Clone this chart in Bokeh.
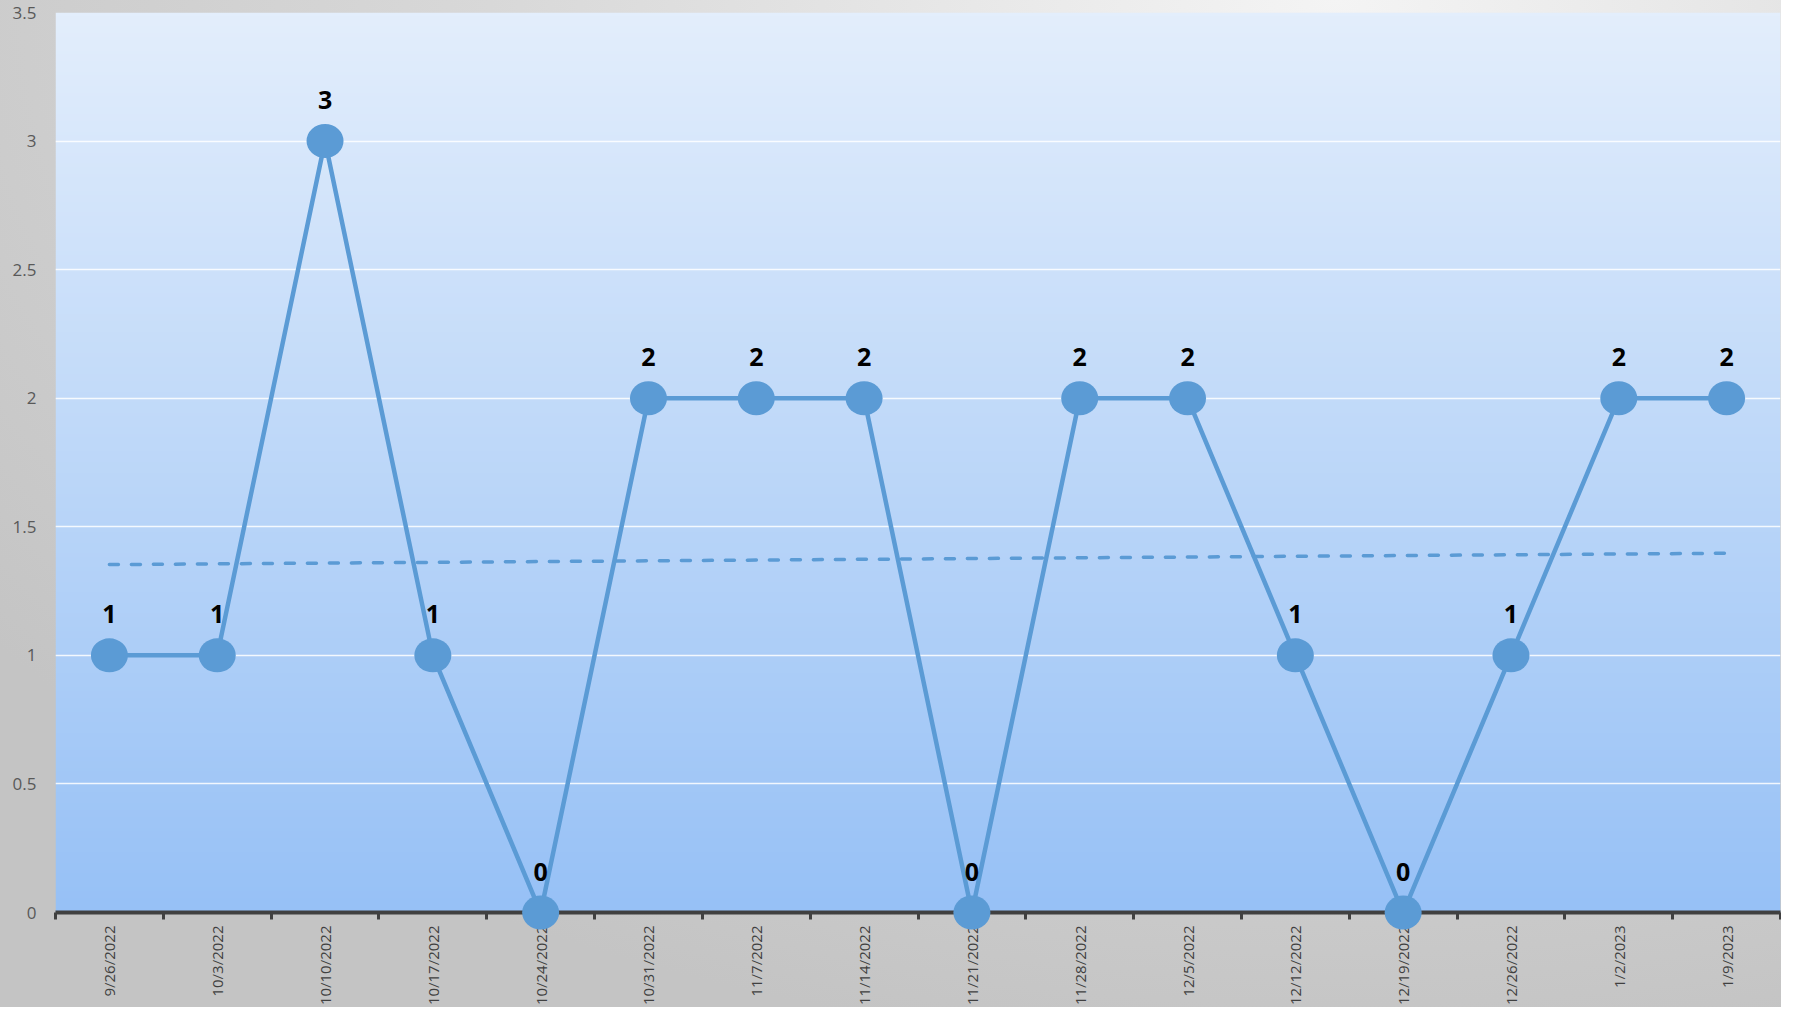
import numpy as np
from bokeh.plotting import figure
from bokeh.models import Range1d, FixedTicker, ColumnDataSource, CustomJSTickFormatter
from bokeh.core.properties import value
from bokeh.embed import file_html
from bokeh.resources import INLINE
import math

# ---- data ----
dates = ["9/26/2022", "10/3/2022", "10/10/2022", "10/17/2022", "10/24/2022",
         "10/31/2022", "11/7/2022", "11/14/2022", "11/21/2022", "11/28/2022",
         "12/5/2022", "12/12/2022", "12/19/2022", "12/26/2022", "1/2/2023", "1/9/2023"]
counts = [1, 1, 3, 1, 0, 2, 2, 2, 0, 2, 2, 1, 0, 1, 2, 2]
y_ticks = [0, 0.5, 1, 1.5, 2, 2.5, 3, 3.5]

n = len(dates)
xs = [i + 0.5 for i in range(n)]
src = ColumnDataSource(dict(x=xs, y=counts, label=[str(c) for c in counts]))
axis_src = ColumnDataSource(dict(x=xs, y=[y_ticks[0]] * n, date=dates))

# linear trendline (as Excel computes it)
slope, intercept = np.polyfit(np.arange(n), counts, 1)
trend_y = [intercept + slope * i for i in range(n)]

BLUE = "#5B9BD5"

p = figure(width=1781, height=1007, output_backend="svg", toolbar_location=None,
           x_range=Range1d(0, n), y_range=Range1d(0, 3.5),
           min_border_left=55, min_border_right=1, min_border_top=12,
           min_border_bottom=95)
p.border_fill_color = None
p.background_fill_color = None
p.outline_line_color = None
p.styles = {"background": "radial-gradient(ellipse 95% 105% at 75% 0%, #f4f4f4 0%, #d8d8d8 50%, #c4c4c4 100%)"}

# plot-area gradient
N = 256
img = np.empty((N, 1), dtype=np.uint32)
view = img.view(dtype=np.uint8).reshape((N, 1, 4))
bottom = np.array([151, 193, 246])
top = np.array([227, 238, 252])
for r in range(N):
    t = r / (N - 1)
    c = bottom + (top - bottom) * t
    view[r, 0, 0] = int(c[0])
    view[r, 0, 1] = int(c[1])
    view[r, 0, 2] = int(c[2])
    view[r, 0, 3] = 255
p.image_rgba(image=[img], x=0, y=0, dw=n, dh=3.5, level="image")

# grid
p.xgrid.visible = False
p.ygrid.ticker = FixedTicker(ticks=y_ticks)
p.ygrid.grid_line_color = "white"
p.ygrid.grid_line_width = 1.6
p.ygrid.grid_line_alpha = 0.85

# y axis
p.yaxis.ticker = FixedTicker(ticks=y_ticks)
p.yaxis.formatter = CustomJSTickFormatter(code="return tick.toString()")
p.yaxis.axis_line_color = None
p.yaxis.major_tick_line_color = None
p.yaxis.minor_tick_line_color = None
p.yaxis.major_tick_out = 0
p.yaxis.major_tick_in = 0
p.yaxis.major_label_standoff = 19
p.yaxis.major_label_text_font = "Open Sans"
p.yaxis.major_label_text_font_size = "17px"
p.yaxis.major_label_text_color = "#595959"

# x axis: line + boundary ticks; date labels drawn as rotated text below it
p.xaxis.axis_label = None
p.xaxis.ticker = FixedTicker(ticks=xs, minor_ticks=list(range(n + 1)))
p.xaxis.formatter = CustomJSTickFormatter(code="return ''")
p.xaxis.axis_line_color = "#404040"
p.xaxis.axis_line_width = 4
p.xaxis.major_tick_line_color = None
p.xaxis.major_tick_out = 0
p.xaxis.major_tick_in = 0
p.xaxis.minor_tick_line_color = "#404040"
p.xaxis.minor_tick_line_width = 3
p.xaxis.minor_tick_out = 7
p.xaxis.minor_tick_in = 0
p.xaxis.major_label_standoff = 0
p.xaxis.major_label_text_font_size = "0px"

p.text("x", "y", text="date", source=axis_src, angle=math.pi / 2,
       text_font=value("Open Sans"), text_font_size="15px", text_color="#404040",
       text_align="right", text_baseline="middle", y_offset=13, level="overlay")

# trendline
p.line(xs, trend_y, line_width=3.5, line_color=BLUE, line_dash="9 13", line_cap="round")

# data line
p.line("x", "y", source=src, line_width=4.5, line_color=BLUE)

# markers
p.ellipse("x", "y", width=37, height=34, width_units="screen", height_units="screen",
          source=src, fill_color=BLUE, line_color=None, level="overlay")

# data labels
p.text("x", "y", text="label", source=src, text_font=value("Open Sans"),
       text_font_style="bold", text_font_size="25px", text_color="black",
       text_align="center", text_baseline="middle", y_offset=-41, level="overlay")

open("out.html", "w").write(file_html(p, INLINE))
